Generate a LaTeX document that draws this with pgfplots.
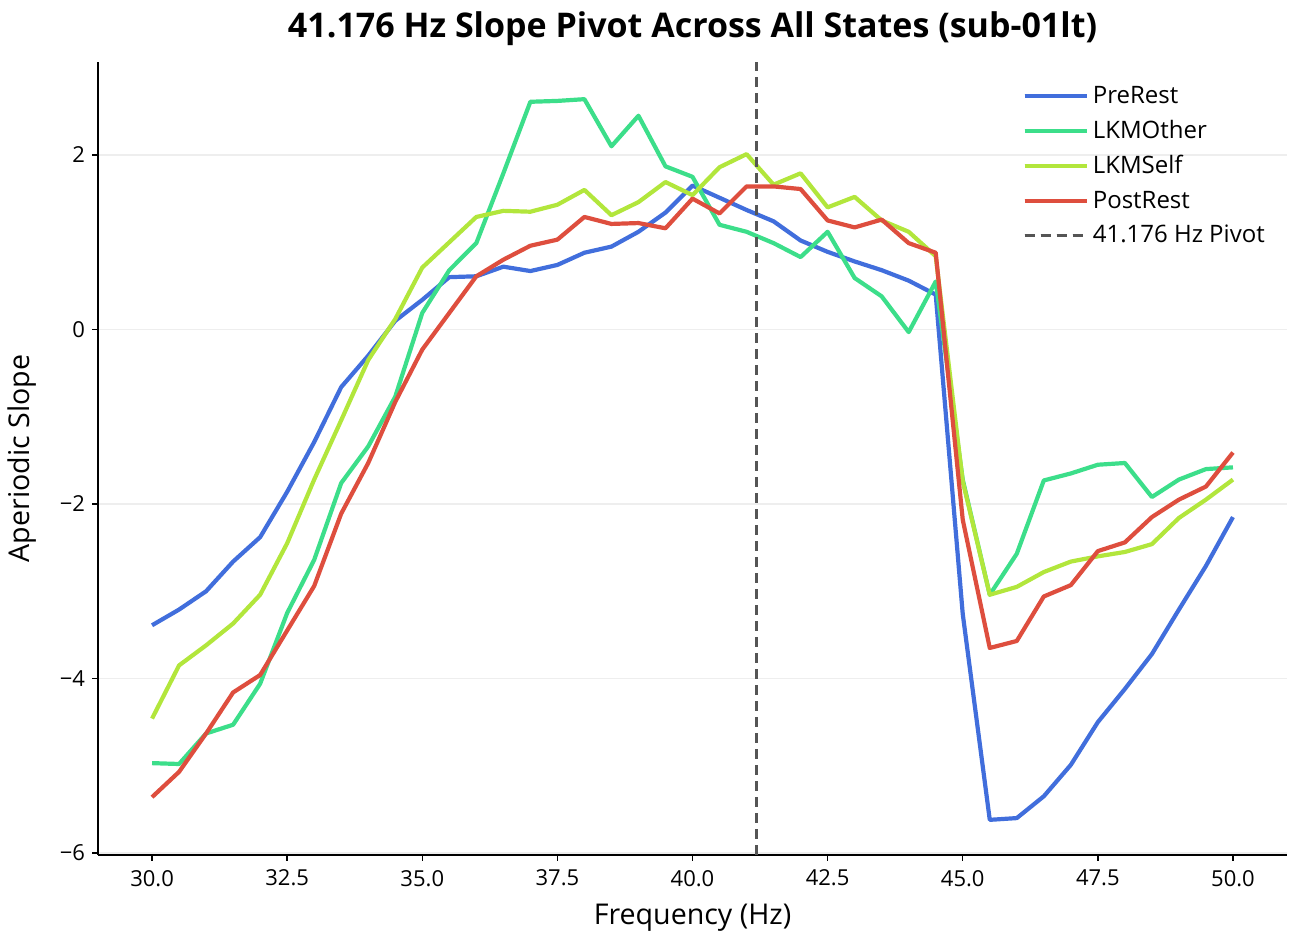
\documentclass[border=0pt]{standalone}
\usepackage{pgfplots}
\pgfplotsset{compat=1.18}
\usepackage{fontspec}
\setmainfont{Open Sans}
\usetikzlibrary{calc}
\definecolor{cblue}{RGB}{65,110,220}
\definecolor{cgreen}{RGB}{60,222,138}
\definecolor{cyellow}{RGB}{178,230,60}
\definecolor{cred}{RGB}{222,78,62}
\definecolor{cpivot}{RGB}{85,85,85}
\definecolor{cgrid}{RGB}{238,238,238}

\pgfplotstableread{
x     pre    oth    slf    post
30.0  -3.39  -4.97  -4.46  -5.36
30.5  -3.21  -4.98  -3.85  -5.07
31.0  -3.00  -4.63  -3.62  -4.63
31.5  -2.66  -4.53  -3.37  -4.16
32.0  -2.38  -4.06  -3.04  -3.96
32.5  -1.86  -3.25  -2.45  -3.45
33.0  -1.29  -2.64  -1.72  -2.94
33.5  -0.66  -1.76  -1.04  -2.11
34.0  -0.30  -1.34  -0.35  -1.53
34.5   0.10  -0.77   0.12  -0.83
35.0   0.34   0.19   0.71  -0.23
35.5   0.60   0.68   1.00   0.19
36.0   0.61   0.99   1.29   0.61
36.5   0.72   1.79   1.36   0.80
37.0   0.67   2.61   1.35   0.96
37.5   0.74   2.62   1.43   1.03
38.0   0.88   2.64   1.60   1.29
38.5   0.95   2.10   1.31   1.21
39.0   1.12   2.45   1.46   1.22
39.5   1.34   1.87   1.69   1.16
40.0   1.65   1.75   1.54   1.50
40.5   1.51   1.20   1.86   1.33
41.0   1.37   1.12   2.01   1.64
41.5   1.24   0.99   1.66   1.64
42.0   1.02   0.83   1.79   1.61
42.5   0.89   1.12   1.40   1.25
43.0   0.78   0.59   1.52   1.17
43.5   0.68   0.38   1.25   1.26
44.0   0.56  -0.03   1.12   0.99
44.5   0.40   0.55   0.84   0.88
45.0  -3.26  -1.72  -1.74  -2.18
45.5  -5.62  -3.04  -3.04  -3.65
46.0  -5.60  -2.57  -2.95  -3.57
46.5  -5.35  -1.73  -2.78  -3.06
47.0  -4.99  -1.65  -2.66  -2.93
47.5  -4.50  -1.55  -2.60  -2.54
48.0  -4.12  -1.53  -2.55  -2.44
48.5  -3.72  -1.92  -2.46  -2.15
49.0  -3.21  -1.72  -2.16  -1.95
49.5  -2.71  -1.60  -1.95  -1.80
50.0  -2.15  -1.58  -1.72  -1.41
}\datatable

\begin{document}
\begin{tikzpicture}
\begin{axis}[
  scale only axis,
  width=594.5pt, height=396.5pt,
  xmin=29, xmax=51, ymin=-6.023, ymax=3.066,
  axis lines=left,
  axis line style={-, black, line width=1pt},
  tick align=outside,
  major tick length=3pt,
  tick style={black, line width=0.7pt},
  xtick={30,32.5,...,50},
  ytick={-6,-4,-2,0,2},
  yticklabels={−6,−4,−2,0,2},
  /pgf/number format/assume math mode=true,
  x tick label style={font=\fontsize{11}{13}\selectfont, yshift=-1pt, /pgf/number format/.cd, fixed, fixed zerofill, precision=1},
  y tick label style={font=\fontsize{11}{13}\selectfont},
  ymajorgrids,
  grid style={cgrid, line width=0.6pt},
  xlabel={Frequency (Hz)},
  ylabel={Aperiodic Slope},
  label style={font=\fontsize{14.3}{16}\selectfont},
  xlabel style={at={(axis description cs:0.5,-0.0794)}, anchor=center},
  ylabel style={at={(axis description cs:-0.064,0.5)}, anchor=center, rotate=0},
  every axis title shift=0pt,
  title={\textbf{41.176 Hz Slope Pivot Across All States (sub-01lt)}},
  title style={at={(axis description cs:0.5,1.0303)}, anchor=base, font=\fontsize{17}{20}\selectfont},
  legend style={at={(0.99,0.98)}, anchor=north east, draw=none, fill=none,
    font=\fontsize{12}{14}\selectfont, row sep=3pt,
    legend cell align=left},
  legend image code/.code={\draw[#1] (0pt,0pt) -- (26pt,0pt); \path (0pt,0pt) -- (31pt,0pt);},
  every axis plot/.append style={line width=2.1pt, line join=round},
]
\addplot[cblue] table[x=x, y=pre] {\datatable};
\addlegendentry{PreRest}
\addplot[cgreen] table[x=x, y=oth] {\datatable};
\addlegendentry{LKMOther}
\addplot[cyellow] table[x=x, y=slf] {\datatable};
\addlegendentry{LKMSelf}
\addplot[cred] table[x=x, y=post] {\datatable};
\addlegendentry{PostRest}
\addplot[cpivot, line width=1.5pt, dash pattern=on 5pt off 3pt] coordinates {(41.176,-6.023) (41.176,3.066)};
\addlegendentry{41.176 Hz Pivot}
\coordinate (sw) at (rel axis cs:0,0);
\coordinate (ne) at (rel axis cs:1,1);
\end{axis}
\pgfresetboundingbox
\useasboundingbox ($(sw)+(-49pt,-45.5pt)$) rectangle ($(ne)+(6pt,31pt)$);
\end{tikzpicture}
\end{document}
